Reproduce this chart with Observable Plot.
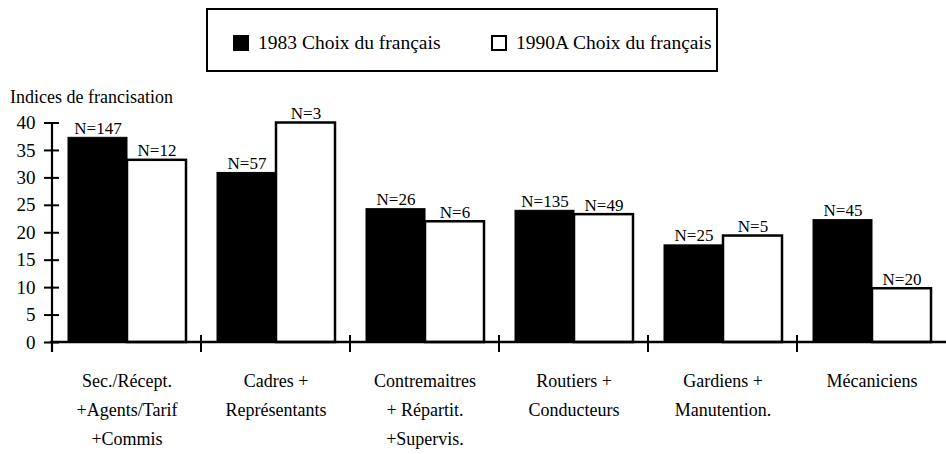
<!DOCTYPE html>
<html><head><meta charset="utf-8">
<script src="https://cdn.jsdelivr.net/npm/d3@7"></script>
<script src="https://cdn.jsdelivr.net/npm/@observablehq/plot@0.6"></script>
<style>
body{margin:0;background:#fff;font-family:"Liberation Serif","Times New Roman",serif;color:#000;}
#wrap{position:relative;width:946px;height:454px;overflow:hidden;}
#legend{position:absolute;left:206px;top:8px;width:512px;height:64px;border:2px solid #000;box-sizing:border-box;font-size:19.5px;font-family:"Liberation Serif",serif;}
.item{position:absolute;top:0;height:60px;display:flex;align-items:center;white-space:nowrap;}
.sw{display:inline-block;width:16px;height:16px;box-sizing:border-box;border:2px solid #000;margin-right:9px;margin-top:6px;}
.lab{margin-top:6px;}
#chart{position:absolute;left:0;top:80px;}
#chart svg, #chart svg text{font-family:"Liberation Serif","Times New Roman",serif !important;}
</style></head>
<body>
<div id="wrap">
  <div id="legend"></div>
  <div id="chart"></div>
</div>
<script>
const categories = [
  "Sec./Récept.\n+Agents/Tarif\n+Commis",
  "Cadres +\nReprésentants",
  "Contremaitres\n+ Répartit.\n+Supervis.",
  "Routiers +\nConducteurs",
  "Gardiens +\nManutention.",
  "Mécaniciens"
];
const seriesKeys = ["1983", "1990A"];
const seriesNames = ["1983 Choix du français", "1990A Choix du français"];
const values1983 = [37.3, 30.9, 24.3, 24.0, 17.7, 22.3];
const values1990A = [33.2, 40.0, 22.0, 23.3, 19.4, 9.8];
const n1983 = ["N=147", "N=57", "N=26", "N=135", "N=25", "N=45"];
const n1990A = ["N=12", "N=3", "N=6", "N=49", "N=5", "N=20"];
const yTicks = [0, 5, 10, 15, 20, 25, 30, 35, 40];
const yTitle = "Indices de francisation";

// legend
const legend = document.getElementById("legend");
const legendLeft = [25, 283];
seriesNames.forEach((name, i) => {
  const it = document.createElement("div");
  it.className = "item";
  it.style.left = legendLeft[i] + "px";
  const sw = document.createElement("span");
  sw.className = "sw";
  sw.style.background = i === 0 ? "#000" : "#fff";
  const lb = document.createElement("span");
  lb.className = "lab";
  lb.textContent = name;
  it.appendChild(sw); it.appendChild(lb);
  legend.appendChild(it);
});

const rows1983 = categories.map((c, i) => ({cat: c, s: seriesKeys[0], v: values1983[i], n: n1983[i]}));
const rows1990 = categories.map((c, i) => ({cat: c, s: seriesKeys[1], v: values1990A[i], n: n1990A[i]}));

const FONT = "Liberation Serif";
const chart = Plot.plot({
  width: 946,
  height: 374,
  marginLeft: 52,
  marginRight: 0,
  marginTop: 42.5,
  marginBottom: 112,
  style: {fontFamily: FONT, fontSize: "18px", background: "transparent", color: "#000"},
  fx: {domain: categories, paddingInner: 0, paddingOuter: 0},
  x: {domain: seriesKeys, paddingInner: 0, paddingOuter: 0.25, axis: null},
  y: {domain: [0, 40]},
  marks: [
    Plot.barY(rows1983, {fx: "cat", x: "s", y: "v", fill: "#000", stroke: "#000", strokeWidth: 1}),
    Plot.barY(rows1990, {fx: "cat", x: "s", y: "v", fill: "#fff", stroke: "#000", strokeWidth: 2.5}),
    Plot.text(rows1983.concat(rows1990), {fx: "cat", x: "s", y: "v", text: "n", lineAnchor: "bottom", dy: -4, fontSize: 17, fontFamily: FONT, fill: "#000"}),
    Plot.axisY({ticks: yTicks, tickSize: 15, dx: 7, tickPadding: 9, strokeWidth: 2, fontSize: 19, fontFamily: FONT, label: null}),
    Plot.axisFx({anchor: "bottom", tickSize: 0, tickPadding: 24, lineHeight: 1.6, fontSize: 18, fontFamily: FONT, label: null})
  ]
});
document.getElementById("chart").appendChild(chart);

// axis lines and boundary ticks, positioned from Plot's own scales
const svg = d3.select(chart);
const fx = chart.scale("fx");
const y = chart.scale("y");
const y0 = y.apply(0), y40 = y.apply(40);
const xl = fx.range[0], xr = fx.range[1];
const g = svg.append("g").attr("stroke", "#000").attr("fill", "none");
g.append("line").attr("x1", xl).attr("x2", xl).attr("y1", y0 + 10).attr("y2", y40).attr("stroke-width", 2.2);
g.append("line").attr("x1", xl - 2).attr("x2", xr).attr("y1", y0).attr("y2", y0).attr("stroke-width", 2.6);
fx.domain.forEach(c => {
  const bx = fx.apply(c);
  g.append("line").attr("x1", bx).attr("x2", bx).attr("y1", y0 - 7).attr("y2", y0 + 10).attr("stroke-width", 2);
});
svg.append("text").attr("x", 10).attr("y", 23).attr("text-anchor", "start").attr("font-family", FONT).attr("font-size", 18).attr("fill", "#000").text(yTitle);
</script>
</body></html>
